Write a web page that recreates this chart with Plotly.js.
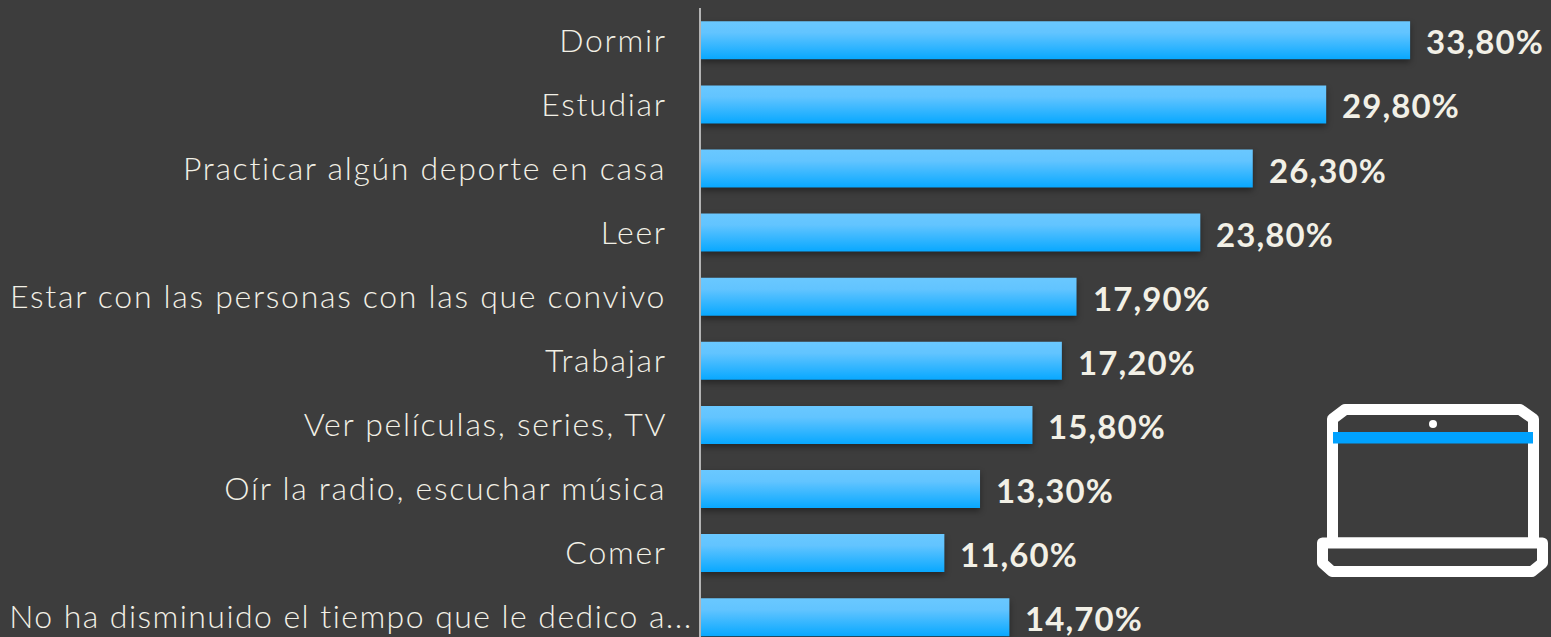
<!DOCTYPE html>
<html><head><meta charset="utf-8">
<script src="https://cdn.plot.ly/plotly-3.0.1.min.js"></script>
<style>
html,body{margin:0;padding:0;background:#3d3d3d;overflow:hidden}
#chart{width:1551px;height:637px}
.ytick text{letter-spacing:1.7px}
.annotation-text{letter-spacing:1.1px}
.shapelayer path{stroke-linejoin:round}
</style></head><body>
<svg width="0" height="0" style="position:absolute"><defs>
<linearGradient id="barGrad" x1="0" y1="0" x2="0" y2="1">
<stop offset="0" stop-color="#6ac8ff"/><stop offset="0.3" stop-color="#62c4ff"/><stop offset="1" stop-color="#08a8ff"/>
</linearGradient></defs></svg>
<div id="chart"></div>
<script>
const categories = ["Dormir","Estudiar","Practicar algún deporte en casa","Leer","Estar con las personas con las que convivo","Trabajar","Ver películas, series, TV","Oír la radio, escuchar música","Comer","No ha disminuido el tiempo que le dedico a..."];
const values = [33.8,29.8,26.3,23.8,17.9,17.2,15.8,13.3,11.6,14.7];
const tickLabels = categories.map((c,i)=> i<categories.length-1 ? c+"\u00a0\u00a0\u2009" : c);
const valueLabels = values.map(v=>v.toFixed(2).replace(".",",")+"%");

const L=701,T=8,W=850,H=629;
const px=x=>(x-L)/W, py=y=>1-(y-T)/H;
const P=pts=>"M"+pts.map(p=>px(p[0])+","+py(p[1])).join("L")+"Z";
const white="#ffffff";
const shapes=[
 {type:"path",xref:"paper",yref:"paper",path:P([[1345,409.5],[1520,409.5],[1533.5,419],[1533.5,543],[1332.5,543],[1332.5,419]]),line:{color:white,width:11},fillcolor:"rgba(0,0,0,0)"},
 {type:"path",xref:"paper",yref:"paper",path:P([[1322.5,543],[1542.5,543],[1542.5,563],[1532,571.5],[1332,571.5],[1322.5,563]]),line:{color:white,width:11},fillcolor:"#3d3d3d"},
 {type:"rect",xref:"paper",yref:"paper",x0:px(1333),x1:px(1533),y0:py(432),y1:py(443.5),line:{width:0},fillcolor:"#00a2ff"},
 {type:"circle",xref:"paper",yref:"paper",x0:px(1429),x1:px(1437),y0:py(420),y1:py(428),line:{width:0},fillcolor:white}
];
const annotations=values.map((v,i)=>({x:v,y:i,xref:"x",yref:"y",text:valueLabels[i],showarrow:false,xanchor:"left",yanchor:"middle",xshift:14,yshift:-1,
  font:{family:"Lato, sans-serif",size:33,weight:700,color:"#f2f0e6"}}));

Plotly.newPlot("chart",[{type:"bar",orientation:"h",x:values,y:categories.map((c,i)=>i),width:0.593,marker:{color:"#33b5ff",line:{width:0}},hoverinfo:"skip"}],{
 width:1551,height:637,margin:{l:L,r:0,t:T,b:0,pad:0},
 paper_bgcolor:"#3d3d3d",plot_bgcolor:"#3d3d3d",showlegend:false,
 xaxis:{range:[0,W/20.98],visible:false,fixedrange:true},
 yaxis:{range:[(637-40.3)/64.1,-32.3/64.1],tickmode:"array",tickvals:categories.map((c,i)=>i),ticktext:tickLabels,showgrid:false,zeroline:false,
   showline:true,linecolor:"#b4b4b4",linewidth:2,ticks:"",ticklabelstandoff:0,automargin:false,fixedrange:true,
   tickfont:{family:"Lato, sans-serif",size:32,weight:300,color:"#f2f0e6"}},
 annotations,shapes
},{displayModeBar:false,staticPlot:true}).then(gd=>{
 gd.querySelectorAll(".barlayer .point path").forEach(p=>{
  p.style.fill="url(#barGrad)";
  p.style.filter="drop-shadow(0px 3px 3px rgba(0,0,0,0.4))";
 });
 const last=categories[categories.length-1];
 gd.querySelectorAll(".ytick text").forEach(t=>{
  if(t.textContent===last) t.style.letterSpacing="1.45px";
 });
});
</script></body></html>
